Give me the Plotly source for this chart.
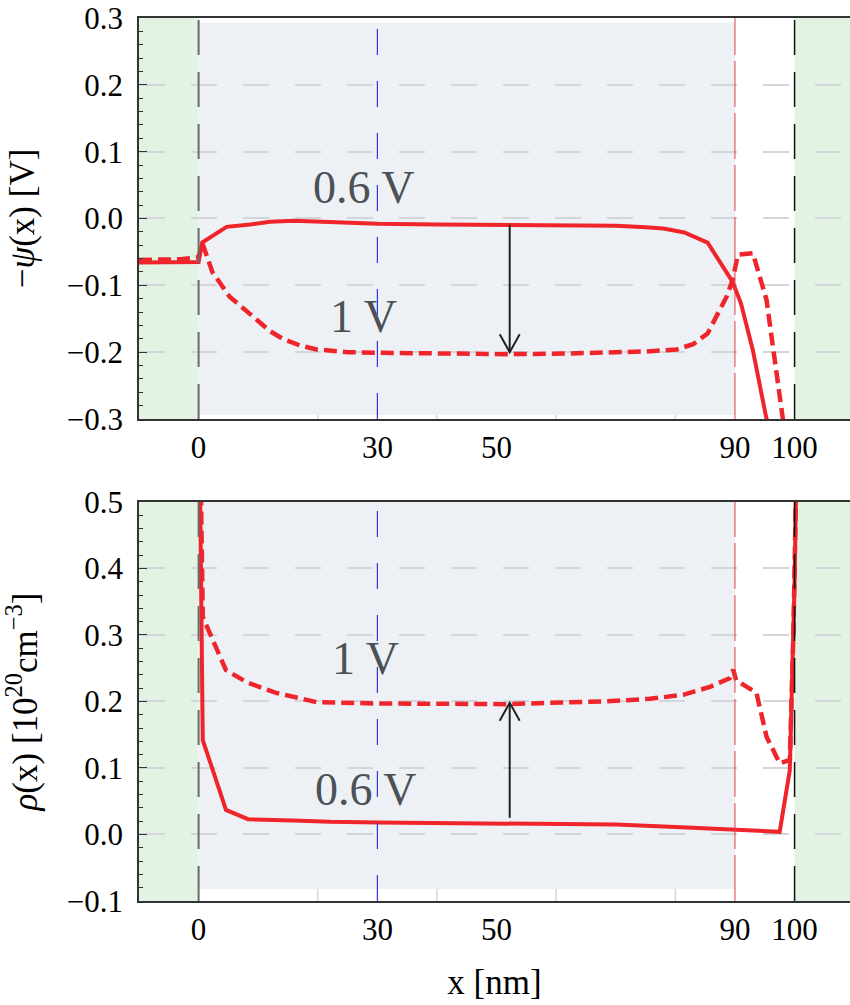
import plotly.graph_objects as go

# Potential profile -psi(x) [V]
psi_06_x = [-10, 0, 0.6, 4.7, 8.6, 12, 16, 22, 30, 40, 52, 62, 70, 75, 78, 81.5, 85.4, 89.6, 91, 93, 95.2, 96.5]
psi_06_y = [-0.066, -0.065, -0.036, -0.0125, -0.009, -0.005, -0.0035, -0.005, -0.008, -0.009, -0.0095,
            -0.010, -0.011, -0.013, -0.015, -0.021, -0.036, -0.095, -0.127, -0.197, -0.296, -0.34]
psi_1_x = [-10, -3, 0, 0.6, 2.3, 5.2, 8.5, 11.9, 14.1, 17, 19.8, 25, 30, 40, 52, 62, 70, 75, 80.2, 83,
           85.4, 88.6, 89.6, 90.5, 93, 95.3, 96.6, 98, 98.5]
psi_1_y = [-0.062, -0.061, -0.058, -0.036, -0.080, -0.117, -0.142, -0.168, -0.180, -0.190, -0.196, -0.200,
           -0.201, -0.202, -0.203, -0.202, -0.201, -0.199, -0.196, -0.188, -0.172, -0.117, -0.092, -0.054,
           -0.052, -0.122, -0.207, -0.297, -0.33]

# Charge density rho(x) [1e20 cm^-3]
rho_06_x = [0.15, 0.7, 4.6, 8.3, 15.8, 22, 30, 45, 59, 70, 81, 89.6, 97.5, 99.2, 100, 100.4]
rho_06_y = [0.6, 0.142, 0.037, 0.023, 0.021, 0.019, 0.018, 0.017, 0.016, 0.015, 0.011, 0.007, 0.004,
            0.097, 0.38, 0.6]
rho_1_x = [0.25, 0.7, 4.6, 8.3, 13, 17, 19.8, 30, 40, 52, 59, 68, 75.7, 81.3, 85.8, 89.1, 89.7, 90.2,
           93.6, 95.3, 97.5, 99.2, 99.8, 100.4]
rho_1_y = [0.6, 0.327, 0.247, 0.228, 0.213, 0.205, 0.199, 0.197, 0.196, 0.196, 0.198, 0.200, 0.204,
           0.210, 0.222, 0.235, 0.248, 0.232, 0.213, 0.147, 0.107, 0.112, 0.3, 0.6]

# Arrows marking the change from 0.6 V to 1 V: (x, tail, head)
psi_arrow = (52.2, -0.0095, -0.200)
rho_arrow = (52.2, 0.025, 0.198)

x_tick_vals = [0, 30, 50, 90, 100]
x_grid_vals = [20, 40, 60, 80]

RED = "#f0242b"
SERIF = "Liberation Serif"
X_RANGE = [-10, 109.3]

fig = go.Figure()

solid = dict(color=RED, width=4)
dashed = dict(color=RED, width=4.5, dash="13px,6px")

fig.add_trace(go.Scatter(x=psi_06_x, y=psi_06_y, mode="lines", line=solid, xaxis="x", yaxis="y"))
fig.add_trace(go.Scatter(x=psi_1_x, y=psi_1_y, mode="lines", line=dashed, xaxis="x", yaxis="y"))
fig.add_trace(go.Scatter(x=rho_06_x, y=rho_06_y, mode="lines", line=solid, xaxis="x2", yaxis="y2"))
fig.add_trace(go.Scatter(x=rho_1_x, y=rho_1_y, mode="lines", line=dashed, xaxis="x2", yaxis="y2"))

GRID = "#d2d5d9"
shapes = []
for xr, yr, box_lo, box_hi in [("x", "y", -0.294, 0.293), ("x2", "y2", -0.082, 0.5)]:
    dom = yr + " domain"
    # contact regions
    shapes.append(dict(type="rect", xref=xr, yref=dom, x0=X_RANGE[0], x1=0, y0=0, y1=1,
                       fillcolor="#e2f3e3", line_width=0, layer="below"))
    shapes.append(dict(type="rect", xref=xr, yref=dom, x0=100, x1=X_RANGE[1], y0=0, y1=1,
                       fillcolor="#e2f3e3", line_width=0, layer="below"))
    # channel region
    shapes.append(dict(type="rect", xref=xr, yref=yr, x0=0, x1=90, y0=box_lo, y1=box_hi,
                       fillcolor="#edf1f5", line_width=0, layer="below"))
    # vertical grid
    for gx in x_grid_vals:
        shapes.append(dict(type="line", xref=xr, yref=dom, x0=gx, x1=gx, y0=0, y1=1,
                           line=dict(color=GRID, width=1.5, dash="26px,26px"), layer="below"))
    shapes.append(dict(type="line", xref=xr, yref=dom, x0=30, x1=30, y0=0, y1=1,
                       line=dict(color="#3434e6", width=1.2, dash="26px,26px")))
    shapes.append(dict(type="line", xref=xr, yref=dom, x0=0, x1=0, y0=0, y1=1,
                       line=dict(color="#6a6a6a", width=2, dash="35px,17px")))
    shapes.append(dict(type="line", xref=xr, yref=dom, x0=90, x1=90, y0=0, y1=1,
                       line=dict(color="#e04040", width=1, dash="46px,6px")))
    shapes.append(dict(type="line", xref=xr, yref=dom, x0=100, x1=100, y0=0, y1=1,
                       line=dict(color="#111111", width=1.5, dash="35px,17px")))

# arrows: shaft in data coordinates, open chevron head sized in pixels
ARROW = "#222222"
for (ax_x, tail, head), xr, yr in [(psi_arrow, "x", "y"), (rho_arrow, "x2", "y2")]:
    shapes.append(dict(type="line", xref=xr, yref=yr, x0=ax_x, x1=ax_x, y0=tail, y1=head,
                       line=dict(color=ARROW, width=2)))
    back = 18 if head < tail else -18
    shapes.append(dict(type="path", xref=xr, yref=yr, xsizemode="pixel", ysizemode="pixel",
                       xanchor=ax_x, yanchor=head,
                       path=f"M -10,{back} L 0,0 L 10,{back}",
                       line=dict(color=ARROW, width=2)))

label_font = dict(family=SERIF, size=46, color="#4b5157")
title_font = dict(family=SERIF, size=35, color="black")

annotations = [
    dict(x=27.7, y=0.047, xref="x", yref="y", text="0.6 V", showarrow=False, font=label_font),
    dict(x=27.7, y=-0.147, xref="x", yref="y", text="1 V", showarrow=False, font=label_font),
    dict(x=28.0, y=0.265, xref="x2", yref="y2", text="1 V", showarrow=False, font=label_font),
    dict(x=28.0, y=0.067, xref="x2", yref="y2", text="0.6 V", showarrow=False, font=label_font),
]

tick_font = dict(family=SERIF, size=31, color="black")

xaxis_common = dict(range=X_RANGE, tickvals=x_tick_vals, ticks="", showgrid=False, zeroline=False,
                    showline=True, mirror=True, linecolor="#333333", linewidth=1.5,
                    tickfont=tick_font, ticklabelstandoff=0)
yaxis_common = dict(ticks="inside", ticklen=8, tickwidth=1.3, tickcolor="#333333", dtick=0.1,
                    tickformat=".1f", showgrid=True, gridcolor=GRID, gridwidth=1.5,
                    griddash="26px,26px", zeroline=False, showline=True, linecolor="#333333",
                    linewidth=1.5, tickfont=tick_font, ticklabelstandoff=8,
                    minor=dict(dtick=0.02, ticks="inside", ticklen=4, tickwidth=1.2,
                               tickcolor="#333333", showgrid=False))

fig.update_layout(
    width=850, height=1005,
    margin=dict(l=139, r=0, t=18, b=104),
    paper_bgcolor="white", plot_bgcolor="white",
    showlegend=False,
    xaxis=dict(domain=[0, 1], anchor="y", **xaxis_common),
    yaxis=dict(domain=[0.5459, 1.0], anchor="x", range=[-0.3, 0.3],
               title=dict(text="−<i>ψ</i>(x) [V]", font=title_font, standoff=22), **yaxis_common),
    xaxis2=dict(domain=[0, 1], anchor="y2",
                title=dict(text="x [nm]", font=title_font, standoff=24), **xaxis_common),
    yaxis2=dict(domain=[0.0, 0.4519], anchor="x2", range=[-0.1, 0.5],
                title=dict(text="<i>ρ</i>(x) [10<sup>20</sup>cm<sup>−3</sup>]", font=title_font,
                           standoff=22), **yaxis_common),
    shapes=shapes,
    annotations=annotations,
)

fig.write_html("out.html")
